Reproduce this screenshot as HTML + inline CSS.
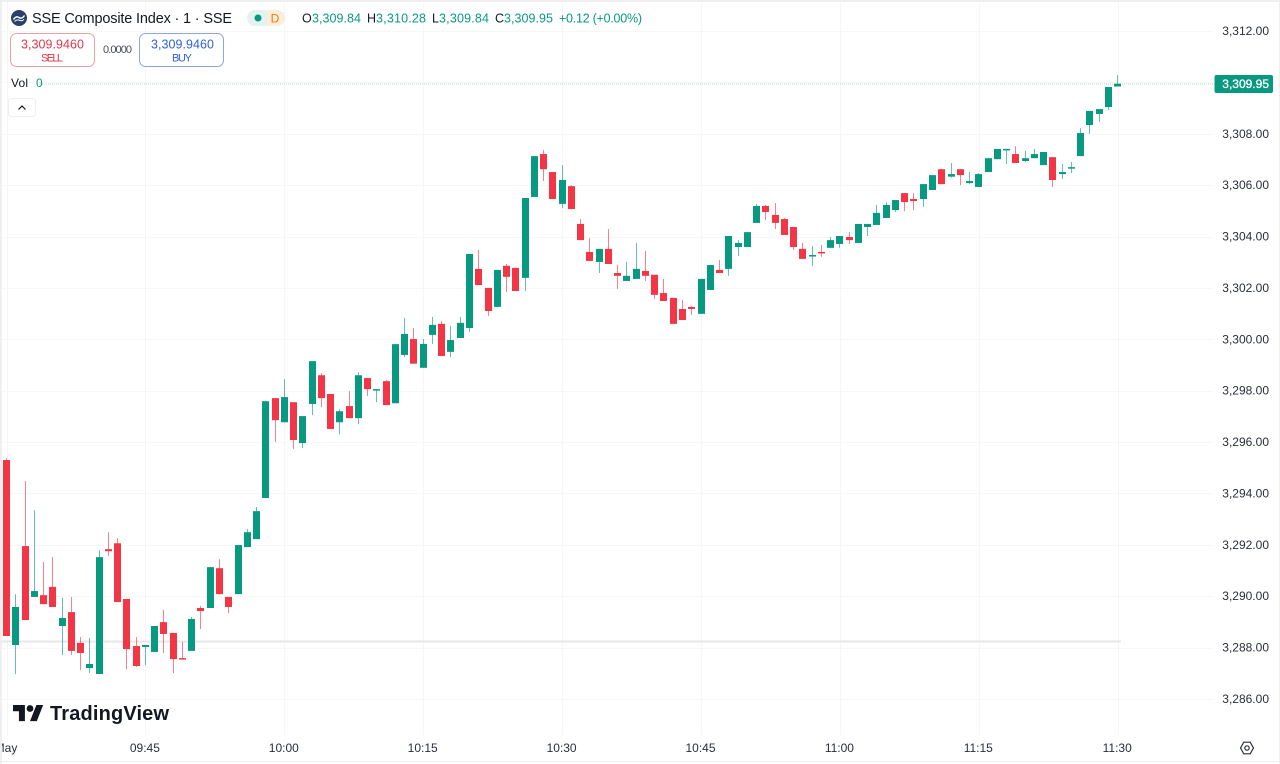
<!DOCTYPE html>
<html lang="en">
<head>
<meta charset="utf-8">
<title>SSE Composite Index chart</title>
<style>
html,body{margin:0;padding:0;background:#fff;width:1280px;height:764px;overflow:hidden}
svg{display:block;position:absolute;left:0;top:0;filter:blur(.3px)}
text{font-family:"Liberation Sans",sans-serif}
</style>
</head>
<body>
<svg id="chart" width="1280" height="764" viewBox="0 0 1280 764" xmlns="http://www.w3.org/2000/svg">
  <rect x="0" y="0" width="1280" height="764" fill="#ffffff"/>
  <g id="grid"></g>
  <rect x="0" y="640.5" width="1121" height="2" fill="#e9e6e6"/>
  <line x1="40" y1="84" x2="1214" y2="84" stroke="#b4d8cf" stroke-width="1" stroke-dasharray="1 1"/>
  <g id="candles"></g>
  <g id="price-axis"></g>
  <g id="time-axis"></g>
  <rect x="1214.500" y="75" width="58.500" height="18" rx="2" fill="#089981"/>
  <text id="last-price-text" x="1269" y="88" text-anchor="end" font-size="12" stroke="#ffffff" stroke-width=".3" fill="#ffffff">3,309.95</text>

  <g>
    <circle cx="19" cy="18" r="8" fill="#2a3f6b"/>
    <path d="M13.500 19.500c2-3 4-3 5.500-2s3.500 1 5.500-2" stroke="#ffffff" stroke-width="1.400" fill="none"/>
    <path d="M14.500 21.500c2-2 3.500-2 5-1.200s3 .7 4.500-1" stroke="#ffffff" stroke-width="1" fill="none"/>
  </g>
  <text x="32" y="23" font-size="14.500" fill="#131722" textLength="200" lengthAdjust="spacing">SSE Composite Index · 1 · SSE</text>

  <g>
    <path d="M255 10h12v16h-12a8 8 0 0 1 0-16z" fill="#e3f3f0"/>
    <path d="M267 10h10a8 8 0 0 1 0 16h-10z" fill="#fdeedb"/>
    <circle cx="258" cy="18" r="3.500" fill="#089981"/>
    <text x="275" y="22.500" text-anchor="middle" font-size="12" fill="#f57c00">D</text>
  </g>

  <g font-size="12.500">
    <text x="302" y="22.500" fill="#131722">O</text>
    <text x="312" y="22.500" fill="#089981" textLength="49">3,309.84</text>
    <text x="367" y="22.500" fill="#131722">H</text>
    <text x="376" y="22.500" fill="#089981" textLength="50">3,310.28</text>
    <text x="432" y="22.500" fill="#131722">L</text>
    <text x="439" y="22.500" fill="#089981" textLength="50">3,309.84</text>
    <text x="495" y="22.500" fill="#131722">C</text>
    <text x="504" y="22.500" fill="#089981" textLength="49">3,309.95</text>
    <text x="559" y="22.500" fill="#089981" textLength="83">+0.12 (+0.00%)</text>
  </g>

  <g>
    <rect x="10.500" y="33.500" width="84" height="33" rx="6" fill="#ffffff" stroke="#e8a0a8"/>
    <text x="21" y="48.500" font-size="12.500" fill="#e0394a" textLength="63">3,309.9460</text>
    <text x="41" y="61.500" font-size="11" fill="#e0394a" textLength="22">SELL</text>
  </g>
  <text x="103" y="53" font-size="11" fill="#4a4e59" textLength="29">0.0000</text>
  <g>
    <rect x="139.500" y="33.500" width="84" height="33" rx="6" fill="#ffffff" stroke="#8ea6d8"/>
    <text x="151" y="48.500" font-size="12.500" fill="#2f62d9" textLength="63">3,309.9460</text>
    <text x="172" y="61.500" font-size="11" fill="#2f62d9" textLength="20">BUY</text>
  </g>

  <text x="11" y="87" font-size="12" fill="#131722" textLength="17">Vol</text>
  <text x="36" y="87" font-size="12" fill="#089981">0</text>

  <g>
    <rect x="8.500" y="98.500" width="27" height="18" rx="3" fill="#ffffff" stroke="#eeeeee"/>
    <path d="M18.500 109.500l3.500-3.500 3.500 3.500" fill="none" stroke="#131722" stroke-width="1.200"/>
  </g>

  <g>
    <path transform="translate(13 701.500) scale(.85 .89)" d="M14 22H7V11H0V4h14v18zM28 22h-8l7.500-18h8L28 22z" fill="#131722"/>
    <circle cx="30" cy="708.500" r="3.400" fill="#131722"/>
    <text x="50" y="720" font-size="20" font-weight="700" fill="#131722" textLength="119">TradingView</text>
  </g>

  <g fill="none" stroke="#2a2e39" stroke-width="1.200">
    <path d="M1240.500 748l3.300-5.800h6.400l3.300 5.800-3.300 5.800h-6.400z"/>
    <circle cx="1247" cy="748" r="2.200"/>
  </g>

  <rect x="0" y="0" width="1280" height="2" fill="#efefef"/>
  <rect x="0" y="0" width="2" height="764" fill="#efefef"/>
  <rect x="1279" y="0" width="1" height="764" fill="#efefef"/>
  <rect x="0" y="761" width="1280" height="1" fill="#efefef"/>
</svg>
<script>
const opens = [3295.30,3288.10,3291.95,3289.97,3290.04,3290.36,3288.84,3289.38,3288.18,3287.20,3286.97,3291.83,3292.06,3289.89,3288.06,3288.02,3287.83,3288.99,3288.57,3287.59,3287.87,3289.54,3289.54,3291.09,3289.97,3290.08,3291.91,3292.22,3293.82,3297.71,3296.77,3297.55,3295.96,3297.48,3298.60,3297.87,3296.77,3297.40,3296.93,3298.49,3298.02,3298.37,3297.51,3299.39,3300.01,3298.89,3300.17,3300.60,3299.51,3300.05,3300.44,3302.74,3302.00,3301.26,3302.86,3302.78,3302.39,3305.54,3307.21,3306.51,3305.27,3305.96,3304.49,3303.40,3303.01,3303.52,3302.58,3302.27,3302.35,3302.66,3302.51,3301.80,3301.61,3301.18,3301.26,3300.99,3301.92,3302.70,3302.74,3303.59,3303.59,3304.53,3305.19,3304.84,3304.68,3304.37,3303.52,3303.24,3303.40,3303.56,3303.71,3303.98,3303.75,3304.37,3304.45,3304.72,3305.03,3305.69,3305.46,3305.46,3305.81,3306.62,3306.33,3306.62,3306.08,3305.93,3306.51,3307.01,3307.37,3307.21,3306.94,3307.05,3306.78,3307.09,3306.43,3306.67,3307.13,3308.34,3308.77,3309.04,3309.84];
const highs = [3295.37,3290.08,3294.48,3293.35,3291.33,3291.52,3289.93,3289.97,3288.41,3288.37,3291.79,3292.49,3292.26,3289.89,3288.41,3288.10,3288.84,3289.46,3288.57,3288.22,3289.19,3289.62,3291.13,3291.44,3289.97,3291.99,3292.61,3293.47,3297.59,3297.71,3298.45,3297.55,3297.01,3299.15,3298.68,3297.87,3297.28,3297.98,3298.72,3298.49,3298.06,3298.41,3299.81,3300.83,3300.44,3300.01,3300.87,3300.71,3300.52,3300.87,3303.32,3303.48,3302.00,3302.70,3302.93,3302.78,3305.50,3307.13,3307.37,3306.51,3306.78,3306.00,3304.68,3303.94,3303.52,3304.29,3302.89,3303.01,3303.75,3303.44,3302.51,3302.35,3301.61,3301.53,3301.30,3302.35,3302.89,3303.09,3304.02,3303.86,3304.17,3305.27,3305.23,3305.30,3304.72,3304.37,3303.75,3303.63,3303.67,3303.98,3304.02,3304.17,3304.49,3304.49,3305.23,3305.34,3305.42,3305.69,3305.69,3306.04,3306.39,3306.62,3306.86,3306.62,3306.51,3306.47,3307.05,3307.41,3307.41,3307.52,3307.33,3307.41,3307.29,3307.09,3306.82,3306.90,3308.22,3308.89,3308.96,3309.82,3310.28];
const lows = [3288.45,3286.97,3289.07,3289.97,3289.69,3289.58,3287.71,3287.71,3287.12,3287.01,3286.97,3291.56,3289.77,3287.16,3287.24,3287.32,3287.83,3287.79,3287.01,3287.55,3287.87,3288.72,3289.54,3290.08,3289.34,3290.08,3291.91,3292.22,3293.82,3296.00,3296.77,3295.73,3295.77,3297.05,3297.36,3296.51,3296.30,3296.93,3296.69,3297.79,3297.55,3297.44,3297.51,3299.31,3299.05,3298.89,3299.82,3299.35,3299.31,3300.05,3300.28,3302.11,3300.91,3301.26,3301.84,3301.88,3301.88,3305.54,3306.16,3305.46,3305.11,3305.07,3303.86,3303.05,3302.58,3302.93,3301.96,3302.27,3302.35,3302.27,3301.57,3301.49,3300.60,3300.75,3300.95,3300.99,3301.92,3302.58,3302.47,3303.24,3303.59,3304.53,3304.64,3304.29,3304.06,3303.48,3303.13,3302.85,3303.21,3303.56,3303.56,3303.71,3303.75,3304.02,3304.45,3304.72,3304.95,3304.99,3305.03,3305.15,3305.81,3306.04,3306.29,3306.00,3306.04,3305.93,3306.51,3307.01,3306.82,3306.86,3306.90,3307.05,3306.78,3305.93,3306.23,3306.47,3307.13,3307.99,3308.46,3308.92,3309.84];
const closes = [3288.45,3289.58,3289.07,3290.20,3289.69,3289.58,3289.15,3287.87,3287.79,3287.36,3291.52,3291.75,3289.77,3287.94,3287.28,3288.10,3288.84,3288.53,3287.55,3287.55,3289.11,3289.42,3291.13,3290.08,3289.58,3291.99,3292.49,3293.31,3297.59,3296.85,3297.75,3296.08,3297.01,3299.15,3297.71,3296.51,3297.20,3296.93,3298.60,3298.06,3298.06,3297.44,3299.81,3300.21,3299.05,3299.82,3300.56,3299.35,3299.97,3300.64,3303.32,3302.11,3301.10,3302.70,3302.43,3301.88,3305.50,3307.13,3306.62,3305.46,3306.20,3305.07,3303.86,3303.05,3303.52,3302.93,3302.47,3302.47,3302.74,3302.47,3301.73,3301.49,3300.60,3300.75,3301.18,3302.35,3302.89,3302.58,3304.02,3303.75,3304.17,3305.19,3304.95,3304.53,3304.06,3303.59,3303.13,3303.28,3303.36,3303.86,3304.02,3303.86,3304.49,3304.49,3304.92,3305.23,3305.42,3305.34,3305.38,3306.04,3306.39,3306.04,3306.43,3306.39,3306.16,3306.43,3307.05,3307.41,3307.41,3306.86,3307.05,3307.21,3307.29,3306.20,3306.51,3306.70,3308.03,3308.89,3308.96,3309.82,3309.95];
const priceTicks = [3312,3310,3308,3306,3304,3302,3300,3298,3296,3294,3292,3290,3288,3286];
const timeLabels = ['May','09:45','10:00','10:15','10:30','10:45','11:00','11:15','11:30'];
const barsPerTimeLabel = 15;

const NS = 'http://www.w3.org/2000/svg';
function xScale(i){ return 6.5 + i * 9.26; }
function yScale(p){ return 31 + (3312 - p) * 25.69; }
function fmt(p){
  const s = p.toFixed(2);
  return s.charAt(0) + ',' + s.slice(1);
}
function make(tag, parent, attrs){
  const el = document.createElementNS(NS, tag);
  for (const k in attrs) el.setAttribute(k, attrs[k]);
  parent.appendChild(el);
  return el;
}

const gridG = document.getElementById('grid');
const priceG = document.getElementById('price-axis');
const timeG = document.getElementById('time-axis');
const candleG = document.getElementById('candles');

priceTicks.forEach(function(p){
  const gl = make('line', gridG, {x1:0, x2:1213, y1:Math.round(yScale(p))+0.5, y2:Math.round(yScale(p))+0.5, stroke:'#f7f7f7'});
  
  
  const t = make('text', priceG, {x:1269, y:yScale(p)+4, 'text-anchor':'end', 'font-size':12, fill:'#2a2e39'});
  
  
  t.textContent = fmt(p);
});

timeLabels.forEach(function(label, k){
  const x = xScale(k * barsPerTimeLabel);
  const gl = make('line', gridG, {x1:Math.round(x)+0.5, x2:Math.round(x)+0.5, y1:0, y2:735, stroke:'#f6f6f6'});
  
  
  const t = make('text', timeG, {x:x-0.5, y:752, 'text-anchor':'middle', 'font-size':12, fill:'#2a2e39'});
  
  
  t.textContent = label;
});

closes.forEach(function(c, i){
  const o = opens[i], h = highs[i], l = lows[i];
  const up = c >= o;
  const color = up ? '#089981' : '#f23645';
  const left = Math.round(xScale(i) - 3.5);
  const g = make('g', candleG, {});
  
  
  const wick = make('rect', g, {x:left+3, y:yScale(h), width:1, height:Math.max(yScale(l)-yScale(h),1), fill:color, opacity:0.62});
  
  
  const top = yScale(Math.max(o,c));
  const ht = Math.max(Math.abs(yScale(o)-yScale(c)), 1.5);
  const body = make('rect', g, {x:left, y:top, width:7, height:ht, fill:color});
  
  
});

document.getElementById('last-price-text').textContent = fmt(closes[closes.length-1]);
</script>
</body>
</html>
